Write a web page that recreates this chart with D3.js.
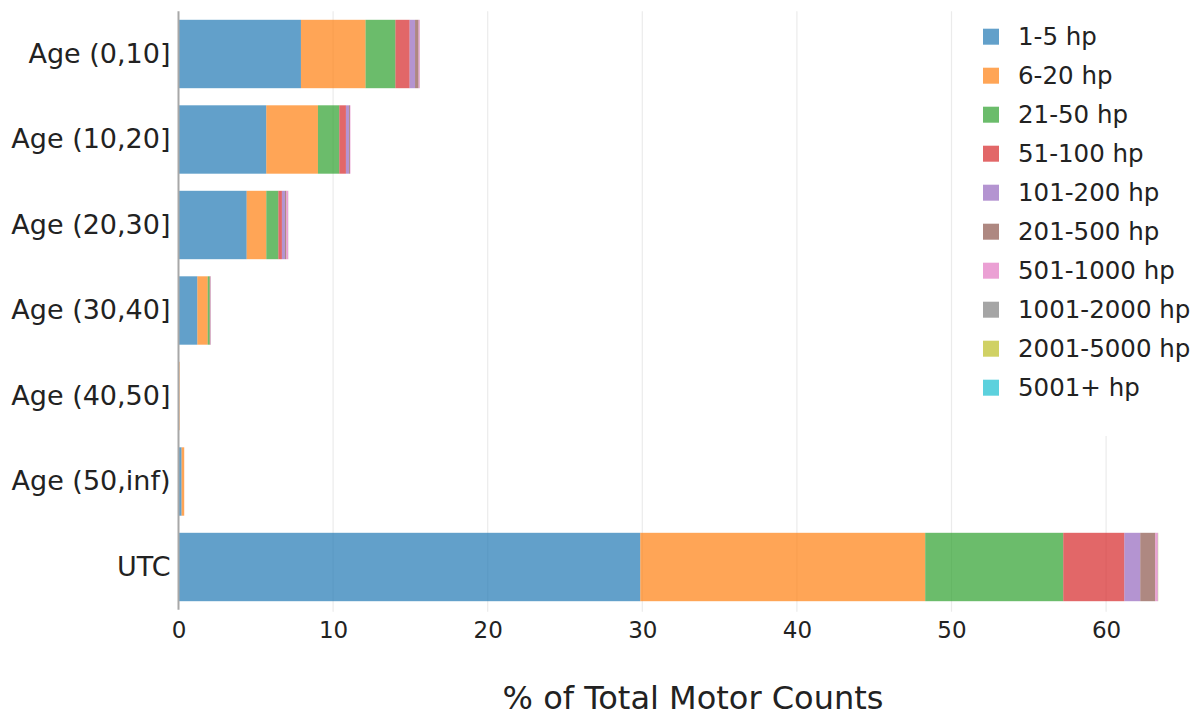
<!DOCTYPE html>
<html>
<head>
<meta charset="utf-8">
<script src="https://cdn.jsdelivr.net/npm/d3@7"></script>
<style>
  html, body { margin: 0; padding: 0; background: #fff; }
  svg { display: block; font-family: "DejaVu Sans", Verdana, sans-serif; }
</style>
</head>
<body>
<svg id="chart" width="1201" height="721"></svg>
<script>
// Motor age groups (rows, top to bottom)
const categories = ["Age (0,10]", "Age (10,20]", "Age (20,30]", "Age (30,40]", "Age (40,50]", "Age (50,inf)", "UTC"];

// Horsepower classes (stack order, left to right)
const hpClasses = ["1-5 hp", "6-20 hp", "21-50 hp", "51-100 hp", "101-200 hp", "201-500 hp", "501-1000 hp", "1001-2000 hp", "2001-5000 hp", "5001+ hp"];

// % of total motor counts per horsepower class, one array per class, aligned with categories
const hp1_5      = [7.92, 5.68, 4.41, 1.22, 0.02, 0.20, 29.87];
const hp6_20     = [4.18, 3.34, 1.27, 0.67, 0.05, 0.17, 18.43];
const hp21_50    = [1.93, 1.38, 0.78, 0.13, 0.00, 0.00, 8.93];
const hp51_100   = [0.92, 0.43, 0.23, 0.03, 0.00, 0.00, 3.95];
const hp101_200  = [0.35, 0.20, 0.20, 0.02, 0.00, 0.00, 1.03];
const hp201_500  = [0.23, 0.06, 0.08, 0.01, 0.00, 0.00, 0.97];
const hp501_1000 = [0.07, 0.03, 0.12, 0.01, 0.00, 0.00, 0.16];
const hp1001_2000 = [0.01, 0.00, 0.01, 0.00, 0.00, 0.00, 0.02];
const hp2001_5000 = [0.00, 0.00, 0.00, 0.00, 0.00, 0.00, 0.01];
const hp5001plus  = [0.00, 0.00, 0.00, 0.00, 0.00, 0.00, 0.00];

const seriesValues = [hp1_5, hp6_20, hp21_50, hp51_100, hp101_200, hp201_500, hp501_1000, hp1001_2000, hp2001_5000, hp5001plus];

// x-axis ticks
const xTicks = [0, 10, 20, 30, 40, 50, 60];
const xTitle = "% of Total Motor Counts";

const colors = ["#1f77b4", "#ff7f0e", "#2ca02c", "#d62728", "#9467bd", "#8c564b", "#e377c2", "#7f7f7f", "#bcbd22", "#17becf"];

// Build a table for d3.stack
const table = categories.map((c, i) => {
  const row = { category: c };
  hpClasses.forEach((h, k) => { row[h] = seriesValues[k][i]; });
  return row;
});
const stacked = d3.stack().keys(hpClasses)(table);

const svg = d3.select("#chart");

const plotTop = 11.25, plotBottom = 609.75;
const x = d3.scaleLinear().domain([0, 65]).range([178.5, 178.5 + 15.46 * 65]);
const y = d3.scaleBand().domain(categories).range([plotTop, plotBottom])
  .paddingInner(0.2).paddingOuter(0.1);
const color = d3.scaleOrdinal().domain(hpClasses).range(colors);

// Vertical gridlines
svg.append("g").selectAll("line")
  .data(xTicks.filter(t => t !== 0))
  .join("line")
  .attr("x1", d => x(d)).attr("x2", d => x(d))
  .attr("y1", plotTop).attr("y2", plotBottom + 2)
  .attr("stroke", "#ebebeb").attr("stroke-width", 1.2);

// Stacked bars
svg.append("g").selectAll("g")
  .data(stacked)
  .join("g")
  .attr("fill", d => color(d.key))
  .attr("fill-opacity", 0.7)
  .selectAll("rect")
  .data(d => d)
  .join("rect")
  .attr("x", d => x(d[0]))
  .attr("width", d => Math.max(0, x(d[1]) - x(d[0])))
  .attr("y", d => y(d.data.category))
  .attr("height", y.bandwidth());

// Zero line
svg.append("line")
  .attr("x1", x(0)).attr("x2", x(0))
  .attr("y1", plotTop).attr("y2", plotBottom)
  .attr("stroke", "#a8a8a8").attr("stroke-width", 2);

// X axis tick labels
const xAxis = d3.axisBottom(x).tickValues(xTicks).tickSize(0).tickPadding(0);
const gx = svg.append("g").attr("transform", `translate(0, ${plotBottom + 12})`).call(xAxis);
gx.select(".domain").remove();
gx.selectAll("text")
  .attr("font-family", "DejaVu Sans, Verdana, sans-serif")
  .attr("font-size", 23).attr("fill", "#222").attr("dy", "0.71em");

// Y axis labels
const yAxis = d3.axisLeft(y).tickSize(0).tickPadding(0);
const gy = svg.append("g").attr("transform", `translate(${x(0) - 8}, 0)`).call(yAxis);
gy.select(".domain").remove();
gy.selectAll("text")
  .attr("font-family", "DejaVu Sans, Verdana, sans-serif")
  .attr("font-size", 27).attr("fill", "#222");

// X axis title
svg.append("text")
  .attr("x", 693).attr("y", 709)
  .attr("text-anchor", "middle")
  .attr("font-size", 32).attr("fill", "#222")
  .text(xTitle);

// Legend
const legend = svg.append("g");
legend.append("rect")
  .attr("x", 968).attr("y", 8).attr("width", 233).attr("height", 428)
  .attr("fill", "#fff");
const items = legend.selectAll("g.item")
  .data(hpClasses)
  .join("g").attr("class", "item")
  .attr("transform", (d, i) => `translate(983, ${36.7 + i * 39})`);
items.append("rect")
  .attr("x", 0).attr("y", -8).attr("width", 16).attr("height", 16)
  .attr("fill", d => color(d)).attr("fill-opacity", 0.7);
items.append("text")
  .attr("x", 35).attr("dy", "0.35em")
  .attr("font-size", 24.5).attr("fill", "#222")
  .text(d => d);
</script>
</body>
</html>
